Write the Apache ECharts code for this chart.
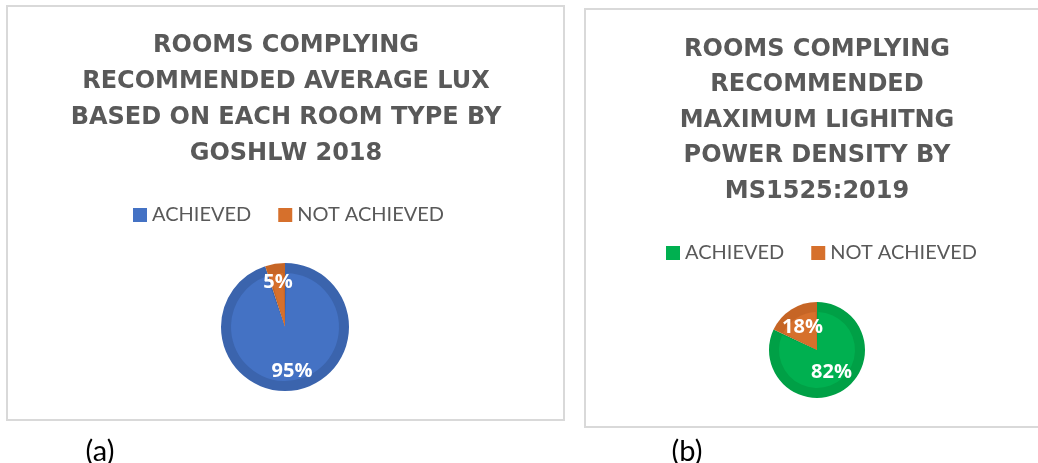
<!DOCTYPE html>
<html lang="en">
<head>
    <meta charset="UTF-8">
    <title>Rooms complying</title>
    <style>
        body { margin: 0; padding: 0; background: #fff; }
        #main { width: 1038px; height: 463px; }
    </style>
    <script src="https://cdn.jsdelivr.net/npm/echarts@6/dist/echarts.min.js"></script>
</head>
<body>
<div id="main"></div>
<script>
    var chart = echarts.init(document.getElementById('main'));

    var categories = ['ACHIEVED', 'NOT ACHIEVED'];
    var luxValues = [95, 5];
    var lpdValues = [82, 18];
    var titleA = 'ROOMS COMPLYING\nRECOMMENDED AVERAGE LUX\nBASED ON EACH ROOM TYPE BY\nGOSHLW 2018';
    var titleB = 'ROOMS COMPLYING\nRECOMMENDED\nMAXIMUM LIGHITNG\nPOWER DENSITY BY\nMS1525:2019';

    var blue = '#4472c4', blueDark = '#3b64ad';
    var orange = '#d6702c', orangeDark = '#c66525';
    var green = '#00b050', greenDark = '#00a046';

    function toData(vals, colors) {
        return vals.map(function (v, i) {
            return { name: categories[i], value: v, itemStyle: { color: colors[i] } };
        });
    }

    function titleStyle(lh) {
        return {
            color: '#595959',
            fontFamily: 'DejaVu Sans',
            fontWeight: 'bold',
            fontSize: 24,
            lineHeight: lh
        };
    }
    var legendText = { color: '#595959', fontFamily: 'Lato', fontSize: 20 };

    // one pie = dark outer ring + lighter inner body + label layer
    function pieSeries(name, vals, colors, darks, center, r, labelR) {
        return [
            {
                name: name, type: 'pie', center: center, radius: [0, r], silent: true,
                startAngle: 90, clockwise: true,
                data: toData(vals, darks), label: { show: false }, labelLine: { show: false }
            },
            {
                type: 'pie', center: center, radius: [0, r - 10], silent: true,
                startAngle: 90, clockwise: true, padAngle: 4,
                data: toData(vals, colors), label: { show: false }, labelLine: { show: false }
            },
            {
                type: 'pie', center: center, radius: labelR, silent: true,
                startAngle: 90, clockwise: true,
                data: toData(vals, ['transparent', 'transparent']), labelLine: { show: false },
                label: {
                    show: true, position: 'inside', formatter: '{c}%',
                    color: '#fff', fontFamily: 'Open Sans', fontWeight: 'bold', fontSize: 20
                }
            }
        ];
    }

    // legend swatches use the lighter body colour
    function legendData(colors) {
        return categories.map(function (c, i) {
            return { name: c, itemStyle: { color: colors[i] } };
        });
    }

    var option = {
        animation: false,
        graphic: [
            { type: 'rect', z: -10, shape: { x: 7, y: 6, width: 557, height: 414 },
              style: { fill: '#fff', stroke: '#d9d9d9', lineWidth: 2 } },
            { type: 'rect', z: -10, shape: { x: 585, y: 9, width: 470, height: 418 },
              style: { fill: '#fff', stroke: '#d9d9d9', lineWidth: 2 } },
            { type: 'text', x: 100, y: 452,
              style: { text: '(a)', fill: '#000', font: '29px Lato', align: 'center', verticalAlign: 'middle' } },
            { type: 'text', x: 687, y: 452,
              style: { text: '(b)', fill: '#000', font: '29px Lato', align: 'center', verticalAlign: 'middle' } }
        ],
        title: [
            { text: titleA, left: 281, top: 23, textAlign: 'center', textStyle: titleStyle(36) },
            { text: titleB, left: 812, top: 27, textAlign: 'center', textStyle: titleStyle(35.5) }
        ],
        legend: [
            { data: legendData([blue, orange]), left: 133, top: 205, padding: 0,
              itemWidth: 14, itemHeight: 14, itemGap: 27,
              icon: 'rect', textStyle: legendText, selectedMode: false },
            { data: legendData([green, orange]), left: 666, top: 243, padding: 0,
              itemWidth: 14, itemHeight: 14, itemGap: 27,
              icon: 'rect', textStyle: legendText, selectedMode: false }
        ],
        series: []
            .concat(pieSeries('a', luxValues, [blue, orange], [blueDark, orangeDark], [285, 327], 64, [20, 64]))
            .concat(pieSeries('b', lpdValues, [green, orange], [greenDark, orangeDark], [817, 350], 48, [0, 48]))
    };
    chart.setOption(option);
</script>
</body>
</html>
